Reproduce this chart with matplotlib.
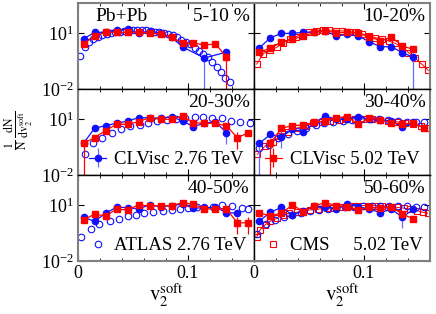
import numpy as np
import matplotlib
matplotlib.use('Agg')
import matplotlib.pyplot as plt
from matplotlib.ticker import FixedLocator, MultipleLocator, NullLocator

plt.rcParams['font.family'] = ['Liberation Serif', 'DejaVu Serif']
plt.rcParams['mathtext.fontset'] = 'stix'

nan = np.nan

# CLVisc bin centres (v2^soft)
bins = [0.005, 0.015, 0.025, 0.035, 0.045, 0.055, 0.065, 0.075,
        0.085, 0.095, 0.105, 0.115, 0.125, 0.135, 0.145, 0.155]

cent_labels = ['5-10 %', '10-20%', '20-30%', '30-40%', '40-50%', '50-60%']

# CLVisc 2.76 TeV (blue filled circles)
c276_05 = [4.8, 11, 11, 14, 16, 10, 12.6, 10, 6.1, 1.8, nan, 0.46, nan, 0.96, nan, nan]
c276_10 = [1.63, 5.6, 9.6, 9.6, 10.9, 11.7, 12.8, 6.9, 8.5, 6.9, 3.4, 1.85, 1.85, 0.88, 0.50, nan]
c276_20 = [0.5, 3.2, 4.4, 5.9, 7.8, 11.7, 11.7, 10.9, 13.3, 7.8, 3.9, 6.0, 7.0, 1.85, nan, nan]
c276_30 = [0.5, 1.5, 1.1, 2.8, 2.1, 6.3, 14.5, 9.6, 9.6, 13.3, 9.6, 8.9, 7.8, 3.9, 6.7, nan]
c276_40 = [2.2, 1.3, 3.6, 7.5, 7.2, 6.1, 10, 8.1, 9.2, 10.9, 6.7, 7.0, 7.5, 3.9, 3.6, nan]
c276_50 = [1.4, 4.0, 7.5, 2.9, 4.8, 8.9, 8.1, 5.9, 10.9, 8.1, 5.9, 3.9, 5.9, 2.2, 5.9, nan]

# CLVisc 5.02 TeV (red filled squares)
c502_05 = [2.6, 6.9, 11, 11, 11, 11, 10, 8.9, 6.1, 2.9, 2.9, 2.3, 2.6, 0.52, nan, nan]
c502_10 = [1.0, 1.5, 3.4, 4.6, 6.9, 10.9, 13.3, 10.4, 10.9, 9.6, 6.3, 3.9, 6.0, 2.0, 1.35, nan]
c502_20 = [0.5, 1.0, 2.4, 5.2, 5.2, 7.1, 11.7, 9.6, 9.6, 14.5, 6.3, 5.9, 5.9, 4.2, 1.0, 1.85]
c502_30 = [nan, 0.5, 3.2, 4.4, 4.8, 6.7, 7.8, 11.7, 13.3, 5.2, 11.7, 8.9, 6.3, 5.2, 5.9, 3.2]
c502_40 = [1.6, 3.2, 2.6, 5.9, 5.4, 10, 8.9, 8.9, 9.2, 13.3, 10.9, 6.1, 6.1, 5.9, 1.1, 1.1]
c502_50 = [3.6, 2.7, 3.6, 10, 4.4, 9.2, 13.3, 9.2, 8.1, 5.4, 7.5, 6.7, 8.1, 3.2, 1.8, nan]

# points whose error bar reaches the bottom / is large
big276 = [[11], [14], [], [0], [], []]
mid276 = [[], [], [13], [2], [], [13]]
big502 = [[13], [], [0], [1], [], []]
mid502 = [[], [], [14], [], [14, 15], []]

# ATLAS 2.76 TeV (blue open circles)
atlas_x_05 = [0.002, 0.006, 0.010, 0.014, 0.018, 0.022, 0.026, 0.030, 0.034, 0.038,
              0.042, 0.046, 0.050, 0.054, 0.058, 0.062, 0.066, 0.070, 0.074, 0.078,
              0.082, 0.086, 0.090, 0.094, 0.098, 0.102, 0.106, 0.110, 0.114, 0.118,
              0.122, 0.126, 0.130, 0.134, 0.138]
atlas_y_05 = [0.6, 1.8, 3.5, 5.0, 6.2, 7.5, 8.7, 10, 11, 12,
              13, 14, 15, 15, 14.5, 14, 13, 12, 11.2, 10.3,
              9, 7.5, 6, 4.5, 3.2, 2.6, 1.6, 1.1, 0.8, 0.5,
              0.28, 0.15, 0.08, 0.04, 0.025]
atlas_x_20 = [0.006, 0.014, 0.022, 0.031, 0.039, 0.047, 0.056, 0.064, 0.072, 0.081,
              0.089, 0.097, 0.106, 0.114, 0.122, 0.131, 0.139, 0.147, 0.156]
atlas_y_20 = [0.13, 0.5, 1.0, 1.8, 2.9, 4.0, 5.0, 6.2, 7.5, 9.0,
              10.5, 12, 13.5, 12.5, 11.7, 11, 8, 7, 6]
atlas_x_30 = [0.005, 0.014, 0.022, 0.031, 0.039, 0.047, 0.056, 0.064, 0.072, 0.081,
              0.089, 0.097, 0.106, 0.114, 0.122, 0.131, 0.139, 0.147, 0.155]
atlas_y_30 = [0.27, 0.4, 1.0, 1.6, 2.3, 3.2, 4.5, 6.0, 7.2, 8.2,
              9.0, 9.8, 10, 9.5, 8.5, 7.8, 7.1, 6.9, 6.7]
atlas_x_40 = [0.003, 0.012, 0.019, 0.029, 0.037, 0.045, 0.053, 0.060, 0.068, 0.077,
              0.085, 0.093, 0.100, 0.108, 0.115, 0.123, 0.131, 0.140, 0.149, 0.155]
atlas_y_40 = [0.2, 0.52, 0.92, 1.3, 1.8, 2.4, 2.9, 3.6, 4.0, 4.8,
              5.4, 6.1, 7.2, 8.1, 8.1, 8.1, 10, 8.9, 6.7, 6.1]
atlas_x_50 = [0.003, 0.011, 0.019, 0.027, 0.035, 0.043, 0.051, 0.059, 0.067, 0.075,
              0.083, 0.091, 0.099, 0.107, 0.115, 0.123, 0.131, 0.139, 0.147, 0.155]
atlas_y_50 = [0.27, 0.9, 1.6, 2.3, 3.0, 3.8, 4.6, 5.4, 6.2, 7.0,
              7.5, 8.0, 8.5, 8.7, 9.0, 8.9, 8.7, 8.3, 8.1, 8.1]

# CMS 5.02 TeV (red open squares)
cms_x_10 = [0.0025, 0.0085, 0.0145, 0.0205, 0.0265, 0.0325, 0.0385, 0.0445, 0.0505,
            0.0565, 0.0625, 0.0685, 0.0745, 0.0805, 0.0865, 0.0925, 0.0985, 0.1045,
            0.1105, 0.1165, 0.1225, 0.1285, 0.1345, 0.1405, 0.1465, 0.1525, 0.1585]
cms_y_10 = [0.22, 0.8, 1.2, 1.7, 3.0, 4.8, 6.5, 9.0, 11,
            12.8, 14, 14.4, 13.5, 13, 12, 10.8, 9.0, 7.3,
            5.7, 4.7, 3.8, 2.8, 1.7, 0.9, 0.45, 0.22, 0.10]
cms_x_30 = [0.003, 0.010, 0.017, 0.024, 0.031, 0.039, 0.046, 0.054, 0.062, 0.069, 0.077,
            0.084, 0.092, 0.099, 0.107, 0.115, 0.122, 0.130, 0.137, 0.145, 0.152, 0.158]
cms_y_30 = [0.13, 0.35, 0.6, 1.2, 2.1, 3.2, 4.2, 5.9, 7.1, 8.1, 8.9,
            9.6, 10, 10, 9.6, 8.9, 7.8, 7.1, 5.9, 5.2, 4.2, 3.2]
cms_x_50 = [0.0025, 0.0055, 0.010, 0.0145, 0.0206, 0.026, 0.032, 0.039, 0.045, 0.051,
            0.058, 0.066, 0.072, 0.078, 0.086, 0.092, 0.098, 0.104, 0.110, 0.116,
            0.122, 0.130, 0.136, 0.142, 0.148, 0.154, 0.158]
cms_y_50 = [0.19, 0.46, 0.85, 1.3, 1.9, 2.9, 3.6, 4.0, 4.8, 5.4,
            5.9, 6.7, 7.2, 8.1, 8.9, 9.2, 9.2, 9.2, 9.2, 8.9,
            8.1, 7.5, 6.7, 5.9, 5.0, 4.0, 3.6]

c276 = [c276_05, c276_10, c276_20, c276_30, c276_40, c276_50]
c502 = [c502_05, c502_10, c502_20, c502_30, c502_40, c502_50]
atlas = {0: (atlas_x_05, atlas_y_05), 2: (atlas_x_20, atlas_y_20), 3: (atlas_x_30, atlas_y_30),
         4: (atlas_x_40, atlas_y_40), 5: (atlas_x_50, atlas_y_50)}
cms = {1: (cms_x_10, cms_y_10), 3: (cms_x_30, cms_y_30), 5: (cms_x_50, cms_y_50)}

BLUE = '#1010ff'
RED = '#ff0000'
GRAY = '#808080'


def draw_clv(ax, vals, big, mid, color, marker, ecolor):
    x = np.array(bins)
    y = np.array(vals, dtype=float)
    lo = y * 0.3
    hi = y * 0.4
    for i in mid:
        lo[i] = y[i] * 0.75
        hi[i] = y[i] * 1.0
    for i in big:
        lo[i] = y[i] - 1e-3
    ok = np.isfinite(y)
    return ax.errorbar(x[ok], y[ok], yerr=[lo[ok], hi[ok]], fmt=marker + '-', color=color,
                       ecolor=ecolor, ms=4.5, lw=0.9, elinewidth=0.9, capsize=0)


fig, axes = plt.subplots(3, 2, figsize=(4.36, 3.14), dpi=100, sharex=True, sharey=True)
fig.subplots_adjust(left=0.179, right=0.986, top=0.99, bottom=0.169, wspace=0, hspace=0)

for k, ax in enumerate(axes.flat):
    r, c = divmod(k, 2)
    ax.set_yscale('log')
    ax.set_xlim(0, 0.16)
    ax.set_ylim(1e-2, 4e2)

    if k in cms:
        cx, cy = cms[k]
        ax.plot(cx, cy, 's-', color=RED, mfc='none', mec=RED, ms=4.5, mew=0.8, lw=0.7)
    if k in atlas:
        axx, axy = atlas[k]
        ax.plot(axx, axy, 'o', color=BLUE, mfc='none', mec=BLUE, ms=4.7, mew=0.8, ls='none')
    h276 = draw_clv(ax, c276[k], big276[k], mid276[k], BLUE, 'o', '#6a6aff')
    h502 = draw_clv(ax, c502[k], big502[k], mid502[k], RED, 's', RED)

    ax.text(0.975, 0.94, cent_labels[k], transform=ax.transAxes, ha='right', va='top', fontsize=14)

    ax.set_xticks([0, 0.1], ['0', '0.1'])
    ax.xaxis.set_minor_locator(MultipleLocator(0.02))
    ax.yaxis.set_major_locator(FixedLocator([1e-2, 1e1]))
    ax.yaxis.set_minor_locator(NullLocator())
    ax.tick_params(which='both', direction='in', top=True, right=True, labelsize=13, pad=3)
    ax.tick_params(which='major', length=4, width=0.8)
    ax.tick_params(which='minor', length=2.5, width=0.6)
    ax.label_outer()

    for side in ['top', 'bottom', 'left', 'right']:
        outer = (side == 'top' and r == 0) or (side == 'bottom' and r == 2) or \
                (side == 'left' and c == 0) or (side == 'right' and c == 1)
        ax.spines[side].set_color(GRAY if outer else 'black')
        ax.spines[side].set_linewidth(1.5 if outer else 1.0)

    leg_h = None
    if k == 2:
        leg_h, leg_t = h276, 'CLVisc 2.76 TeV'
    elif k == 3:
        leg_h, leg_t = h502, 'CLVisc 5.02 TeV'
    elif k == 4:
        leg_h = plt.Line2D([], [], ls='none', marker='o', mfc='none', mec=BLUE, ms=4.7, mew=0.8)
        leg_t = 'ATLAS 2.76 TeV'
    elif k == 5:
        leg_h = plt.Line2D([], [], ls='none', marker='s', mfc='none', mec=RED, ms=4.5, mew=0.8)
        leg_t = 'CMS     5.02 TeV'
    if leg_h is not None:
        ax.legend([leg_h], [leg_t], loc='lower left', frameon=False, fontsize=13.5,
                  handlelength=0.9, handletextpad=0.45, borderaxespad=0.0,
                  bbox_to_anchor=(0.02, -0.01))

axes[0, 0].text(0.1, 0.94, 'Pb+Pb', transform=axes[0, 0].transAxes, ha='left', va='top', fontsize=14)

fig.text(0.042, 0.585, r'$\frac{1}{\mathrm{N}}\,\frac{\mathrm{dN}}{\mathrm{dv}_2^{\mathrm{soft}}}$',
         rotation=90, ha='center', va='center', fontsize=12)
for ax in axes[2]:
    ax.set_xlabel(r'$\mathrm{v}_2^{\mathrm{soft}}$', fontsize=15, labelpad=0)

fig.savefig('out.png', dpi=100)
